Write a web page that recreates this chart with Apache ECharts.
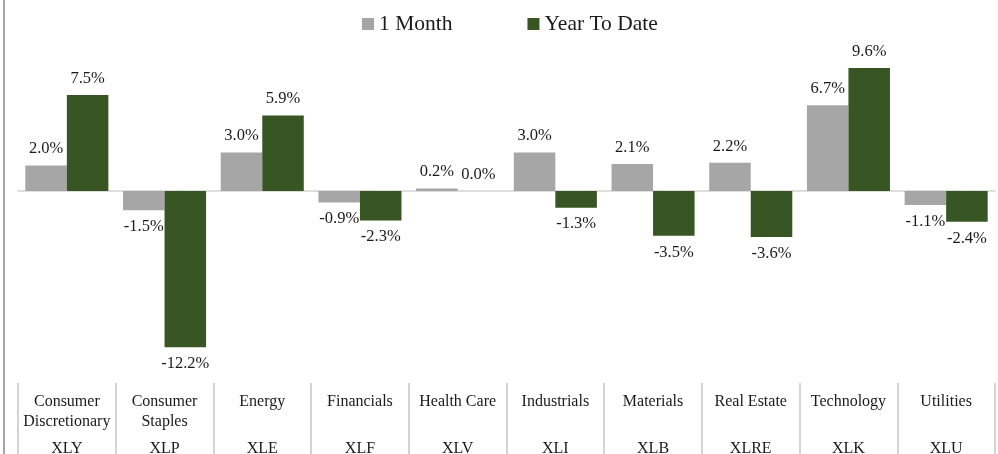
<!DOCTYPE html>
<html><head><meta charset="utf-8">
<script src="https://cdn.jsdelivr.net/npm/echarts@6/dist/echarts.min.js"></script>
<style>html,body{margin:0;padding:0;background:#fff}#c{width:998px;height:454px}</style>
</head><body><div id="c"></div>
<script>
const sectors = ['Consumer\nDiscretionary','Consumer\nStaples','Energy','Financials','Health Care','Industrials','Materials','Real Estate','Technology','Utilities'];
const tickers = ['XLY','XLP','XLE','XLF','XLV','XLI','XLB','XLRE','XLK','XLU'];
const oneMonth = [2.0,-1.5,3.0,-0.9,0.2,3.0,2.1,2.2,6.7,-1.1];
const ytd = [7.5,-12.2,5.9,-2.3,0.0,-1.3,-3.5,-3.6,9.6,-2.4];

const FONT = 'Liberation Serif';
const chart = echarts.init(document.getElementById('c'));
const lbl = {show:true, position:'outside', distance:8, color:'#1a1a1a', fontFamily:FONT, fontSize:16.5,
  formatter: p => p.value.toFixed(1) + '%'};
const toData = arr => arr.map(v => v >= 0 ? {value:v, label:{position:'top'}} : {value:v, label:{position:'bottom'}});
chart.setOption({
  animation:false,
  textStyle:{fontFamily:FONT},
  legend:{left:357, top:8, itemWidth:12, itemHeight:12, itemGap:75,
    icon:'rect', textStyle:{fontFamily:FONT, fontSize:21.5, color:'#1a1a1a'}},
  grid:{left:18, right:3, top:63, bottom:71, containLabel:false, outerBoundsMode:'none'},
  graphic:[{type:'line', shape:{x1:4,y1:0,x2:4,y2:454}, style:{stroke:'#a6a6a6', lineWidth:2}}],
  xAxis:[
    {type:'category', data:sectors, position:'bottom',
      axisLine:{onZero:true, lineStyle:{color:'#d4d4d4', width:1.5}},
      axisTick:{show:false}, axisLabel:{show:false}},
    {type:'category', data:sectors, position:'bottom',
      axisLine:{show:false, onZero:false},
      axisTick:{show:true, length:71, lineStyle:{color:'#d4d4d4', width:2}},
      axisLabel:{show:true, interval:0, margin:9, verticalAlign:'top', lineHeight:20,
        fontFamily:FONT, fontSize:16, color:'#1a1a1a'}},
    {type:'category', data:tickers, position:'bottom',
      axisLine:{show:false, onZero:false}, axisTick:{show:false},
      axisLabel:{show:true, interval:0, margin:66, verticalAlign:'middle',
        fontFamily:FONT, fontSize:16, color:'#1a1a1a'}}
  ],
  yAxis:{type:'value', min:-15, max:10, show:false, splitLine:{show:false}},
  series:[
    {name:'1 Month', type:'bar', data:toData(oneMonth), xAxisIndex:0, barGap:'0%', barCategoryGap:'15%',
      itemStyle:{color:'#a6a6a6'}, label:lbl},
    {name:'Year To Date', type:'bar', data:toData(ytd), xAxisIndex:0, barGap:'0%', barCategoryGap:'15%',
      itemStyle:{color:'#375623'}, label:lbl}
  ]
});
</script></body></html>
